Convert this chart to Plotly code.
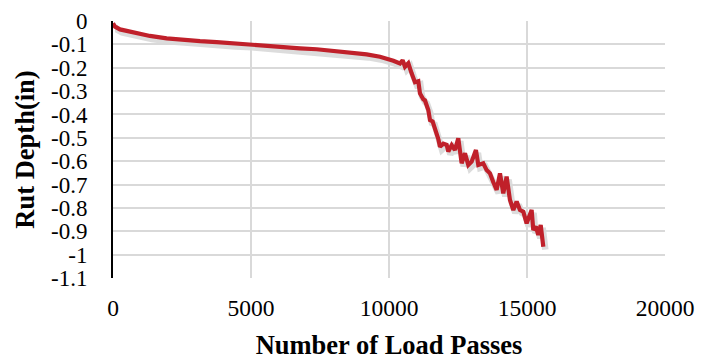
import plotly.graph_objects as go

load_passes = [0, 72, 254, 737, 1340, 1945, 2548, 3152, 3757, 4360, 4964, 5568, 6171, 6775,
               7380, 7983, 8587, 9191, 9674, 10000, 10157, 10398, 10494, 10579, 10700, 10820,
               10941, 11062, 11122, 11243, 11303, 11424, 11485, 11580, 11666, 11787, 11847,
               11968, 12089, 12149, 12271, 12390, 12510, 12632, 12753, 12873, 12994, 13150,
               13235, 13416, 13538, 13658, 13780, 13900, 14021, 14141, 14262, 14383, 14504,
               14625, 14746, 14866, 14987, 15168, 15228, 15320, 15409, 15496, 15591]
rut_depth = [-0.01, -0.024, -0.036, -0.05, -0.064, -0.074, -0.081, -0.086, -0.09, -0.096,
             -0.10, -0.106, -0.11, -0.117, -0.121, -0.127, -0.134, -0.143, -0.153, -0.162,
             -0.170, -0.182, -0.168, -0.196, -0.181, -0.224, -0.262, -0.258, -0.31, -0.335,
             -0.34, -0.381, -0.424, -0.43, -0.46, -0.505, -0.538, -0.525, -0.53, -0.559,
             -0.531, -0.552, -0.502, -0.609, -0.566, -0.616, -0.602, -0.552, -0.616, -0.609,
             -0.638, -0.652, -0.69, -0.723, -0.652, -0.738, -0.666, -0.766, -0.809, -0.773,
             -0.809, -0.816, -0.866, -0.809, -0.895, -0.88, -0.916, -0.873, -0.966]

y_tickvals = [0, -0.1, -0.2, -0.3, -0.4, -0.5, -0.6, -0.7, -0.8, -0.9, -1.0, -1.1]
y_ticktext = ["0", "-0.1", "-0.2", "-0.3", "-0.4", "-0.5", "-0.6", "-0.7", "-0.8", "-0.9", "-1", "-1.1"]
x_tickvals = [0, 5000, 10000, 15000, 20000]
x_ticktext = ["0", "5000", "10000", "15000", "20000"]

FONT = "'Liberation Serif', 'Times New Roman', serif"
W, H = 702, 360
SX, SY = 2, 3  # shadow offset in px
ML, MR, MT, MB = 113, 37 - SX, 21, 82 - SY
pw, ph = W - ML - MR, H - MT - MB
dx, dy = SX / pw, SY / ph

fig = go.Figure()
# soft shadow on the hidden axes, offset slightly down-right
fig.add_trace(go.Scatter(x=load_passes, y=rut_depth, mode="lines",
                         line=dict(color="rgba(80,80,80,0.2)", width=6.5), hoverinfo="skip",
                         showlegend=False))
# main red line on the visible axes
fig.add_trace(go.Scatter(x=load_passes, y=rut_depth, mode="lines", xaxis="x2", yaxis="y2",
                         line=dict(color="#C0202A", width=4.2), showlegend=False))

fig.update_layout(
    width=W, height=H, margin=dict(l=ML, r=MR, t=MT, b=MB, autoexpand=False),
    paper_bgcolor="white", plot_bgcolor="rgba(0,0,0,0)",
    font=dict(family=FONT, color="black", size=23),
    xaxis=dict(range=[0, 20000], showgrid=False, zeroline=False, visible=False,
               domain=[dx, 1], anchor="y", automargin=False),
    yaxis=dict(range=[-1.1, 0], showgrid=False, zeroline=False, visible=False,
               domain=[0, 1 - dy], anchor="x", automargin=False),
    xaxis2=dict(range=[0, 20000], tickvals=x_tickvals, ticktext=x_ticktext,
                showgrid=True, gridcolor="#D9D9D9", gridwidth=1.5, zeroline=False,
                showline=False, ticks="outside", ticklen=9, tickcolor="rgba(0,0,0,0)",
                tickfont=dict(family=FONT, size=23.5, color="black"),
                title=dict(text="<b>Number of Load Passes</b>", standoff=15,
                           font=dict(family=FONT, size=26.5, color="black")),
                domain=[0, 1 - dx], anchor="y2", automargin=False),
    yaxis2=dict(range=[-1.1, 0], tickvals=y_tickvals, ticktext=y_ticktext,
                showgrid=True, gridcolor="#D9D9D9", gridwidth=1.5, zeroline=False,
                showline=True, linecolor="black", linewidth=2,
                ticks="outside", ticklen=19, tickcolor="rgba(0,0,0,0)",
                tickfont=dict(family=FONT, size=23, color="black"),
                title=dict(text="<b>Rut Depth(in)</b>", standoff=9,
                           font=dict(family=FONT, size=26.5, color="black")),
                domain=[dy, 1], anchor="x2", automargin=False),
)
fig.write_html("out.html")
